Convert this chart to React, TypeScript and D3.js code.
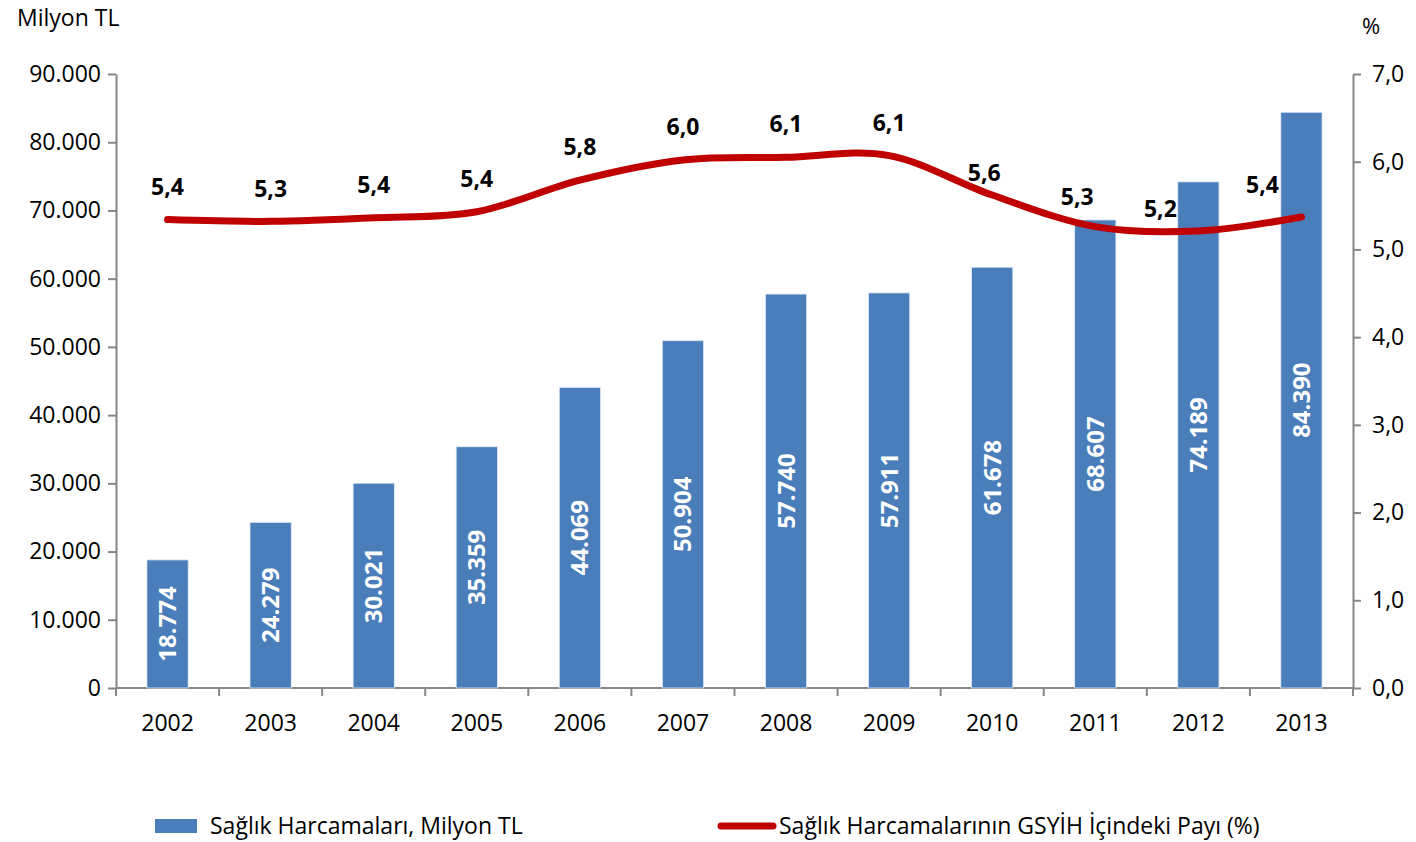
import { useEffect, useRef } from "react";
import * as d3 from "d3";

const years = ["2002", "2003", "2004", "2005", "2006", "2007", "2008", "2009", "2010", "2011", "2012", "2013"];
const spending = [18774, 24279, 30021, 35359, 44069, 50904, 57740, 57911, 61678, 68607, 74189, 84390];
const gdpShare = [5.34, 5.32, 5.36, 5.43, 5.79, 6.02, 6.05, 6.07, 5.62, 5.26, 5.21, 5.37];
const gdpShareLabels = ["5,4", "5,3", "5,4", "5,4", "5,8", "6,0", "6,1", "6,1", "5,6", "5,3", "5,2", "5,4"];
const leftTicks = [0, 10000, 20000, 30000, 40000, 50000, 60000, 70000, 80000, 90000];
const rightTicks = [0, 1, 2, 3, 4, 5, 6, 7];

const FONT = "'Open Sans', 'Noto Sans', sans-serif";
const BLUE = "#4a7ebb";
const RED = "#c00000";
const AXIS = "#868686";

const trLocale = d3.formatLocale({ decimal: ",", thousands: ".", grouping: [3], currency: ["", " TL"] });

// label nudges for the crowded right end (dx, dy from the point)
const labelOffset = (i: number): [number, number] => {
  if (i === 9) return [-18, -29];
  if (i === 10) return [-38, -21];
  if (i === 11) return [-39, -31];
  if (i === 8) return [-8, -21];
  return [0, -32];
};

const App = () => {
  const ref = useRef<SVGSVGElement>(null);

  useEffect(() => {
    const svg = d3.select(ref.current);
    svg.selectAll("*").remove();

    const width = 1416;
    const height = 842;
    const margin = { top: 74, right: 63, bottom: 154, left: 116 };

    const x = d3
      .scaleBand()
      .domain(years)
      .range([margin.left, width - margin.right])
      .paddingInner(0.6)
      .paddingOuter(0.3);

    const y = d3.scaleLinear().domain([0, 90000]).range([height - margin.bottom, margin.top]);
    const y2 = d3.scaleLinear().domain([0, 7]).range([height - margin.bottom, margin.top]);

    const g = svg.append("g").style("font-family", FONT);

    // axes
    const left = g
      .append("g")
      .attr("transform", `translate(${margin.left},0)`)
      .call(d3.axisLeft(y).tickValues(leftTicks).tickFormat(trLocale.format(",d")).tickSize(8).tickSizeOuter(0).tickPadding(7));

    const right = g
      .append("g")
      .attr("transform", `translate(${width - margin.right},0)`)
      .call(d3.axisRight(y2).tickValues(rightTicks).tickFormat(trLocale.format(".1f")).tickSize(8).tickSizeOuter(0).tickPadding(11));

    const bottom = g
      .append("g")
      .attr("transform", `translate(0,${height - margin.bottom})`)
      .call(d3.axisBottom(x).tickSize(0).tickPadding(27));
    bottom.select(".domain").attr("d", `M${margin.left},0H${width - margin.right}`);

    [left, right, bottom].forEach((a) => {
      a.attr("font-family", FONT).attr("font-size", 23);
      a.selectAll("text").attr("fill", "#000");
    });

    // boundary ticks between categories
    const step = x.step();
    g.append("g")
      .selectAll("line")
      .data(d3.range(years.length + 1))
      .join("line")
      .attr("x1", (i) => margin.left + i * step)
      .attr("x2", (i) => margin.left + i * step)
      .attr("y1", height - margin.bottom)
      .attr("y2", height - margin.bottom + 8)
      .attr("stroke", AXIS)
      .attr("stroke-width", 2);

    g.selectAll(".domain, .tick line").attr("stroke", AXIS).attr("stroke-width", 2);

    // bars
    g.append("g")
      .selectAll("rect")
      .data(spending)
      .join("rect")
      .attr("x", (_, i) => x(years[i])!)
      .attr("y", (d) => y(d))
      .attr("width", x.bandwidth())
      .attr("height", (d) => y(0) - y(d))
      .attr("fill", BLUE)
      .attr("stroke", "#dfe8f3")
      .attr("stroke-width", 0.8);

    // bar value labels
    g.append("g")
      .selectAll("text")
      .data(spending)
      .join("text")
      .attr("transform", (d, i) => `translate(${x(years[i])! + x.bandwidth() / 2 + 8.5},${(y(d) + y(0)) / 2}) rotate(-90)`)
      .attr("text-anchor", "middle")
      .attr("font-size", 24)
      .attr("font-weight", "bold")
      .attr("fill", "#fff")
      .text((d) => trLocale.format(",d")(d));

    // share line
    const cx = (i: number) => x(years[i])! + x.bandwidth() / 2;
    const line = d3
      .line<number>()
      .x((_, i) => cx(i))
      .y((d) => y2(d))
      .curve(d3.curveCardinal.tension(0));

    g.append("path")
      .datum(gdpShare)
      .attr("d", line)
      .attr("fill", "none")
      .attr("stroke", RED)
      .attr("stroke-width", 7)
      .attr("stroke-linecap", "round")
      .attr("stroke-linejoin", "round");

    g.append("g")
      .selectAll("text")
      .data(gdpShare)
      .join("text")
      .attr("x", (_, i) => cx(i) + labelOffset(i)[0])
      .attr("y", (d, i) => y2(d) + labelOffset(i)[1] + 1)
      .attr("text-anchor", "middle")
      .attr("dominant-baseline", "middle")
      .attr("font-size", 23)
      .attr("font-weight", "bold")
      .attr("fill", "#000")
      .text((_, i) => gdpShareLabels[i]);

    // axis titles
    g.append("text").attr("x", 17).attr("y", 26).attr("font-size", 23).text("Milyon TL");
    g.append("text").attr("x", 1362).attr("y", 34).attr("font-size", 22).text("%");

    // legend
    const lg = g.append("g").attr("font-size", 23);
    lg.append("rect").attr("x", 155).attr("y", 819).attr("width", 42).attr("height", 14).attr("fill", BLUE);
    lg.append("text").attr("x", 210).attr("y", 834).text("Sağlık Harcamaları, Milyon TL");
    lg.append("line")
      .attr("x1", 721)
      .attr("x2", 773)
      .attr("y1", 826)
      .attr("y2", 826)
      .attr("stroke", RED)
      .attr("stroke-width", 7)
      .attr("stroke-linecap", "round");
    lg.append("text").attr("x", 779).attr("y", 834).text("Sağlık Harcamalarının GSYİH İçindeki Payı (%)");
  }, []);

  return (
    <svg
      ref={ref}
      width={1416}
      height={842}
      style={{ position: "absolute", left: 0, top: 0, display: "block", background: "#fff" }}
    />
  );
};

export default App;
